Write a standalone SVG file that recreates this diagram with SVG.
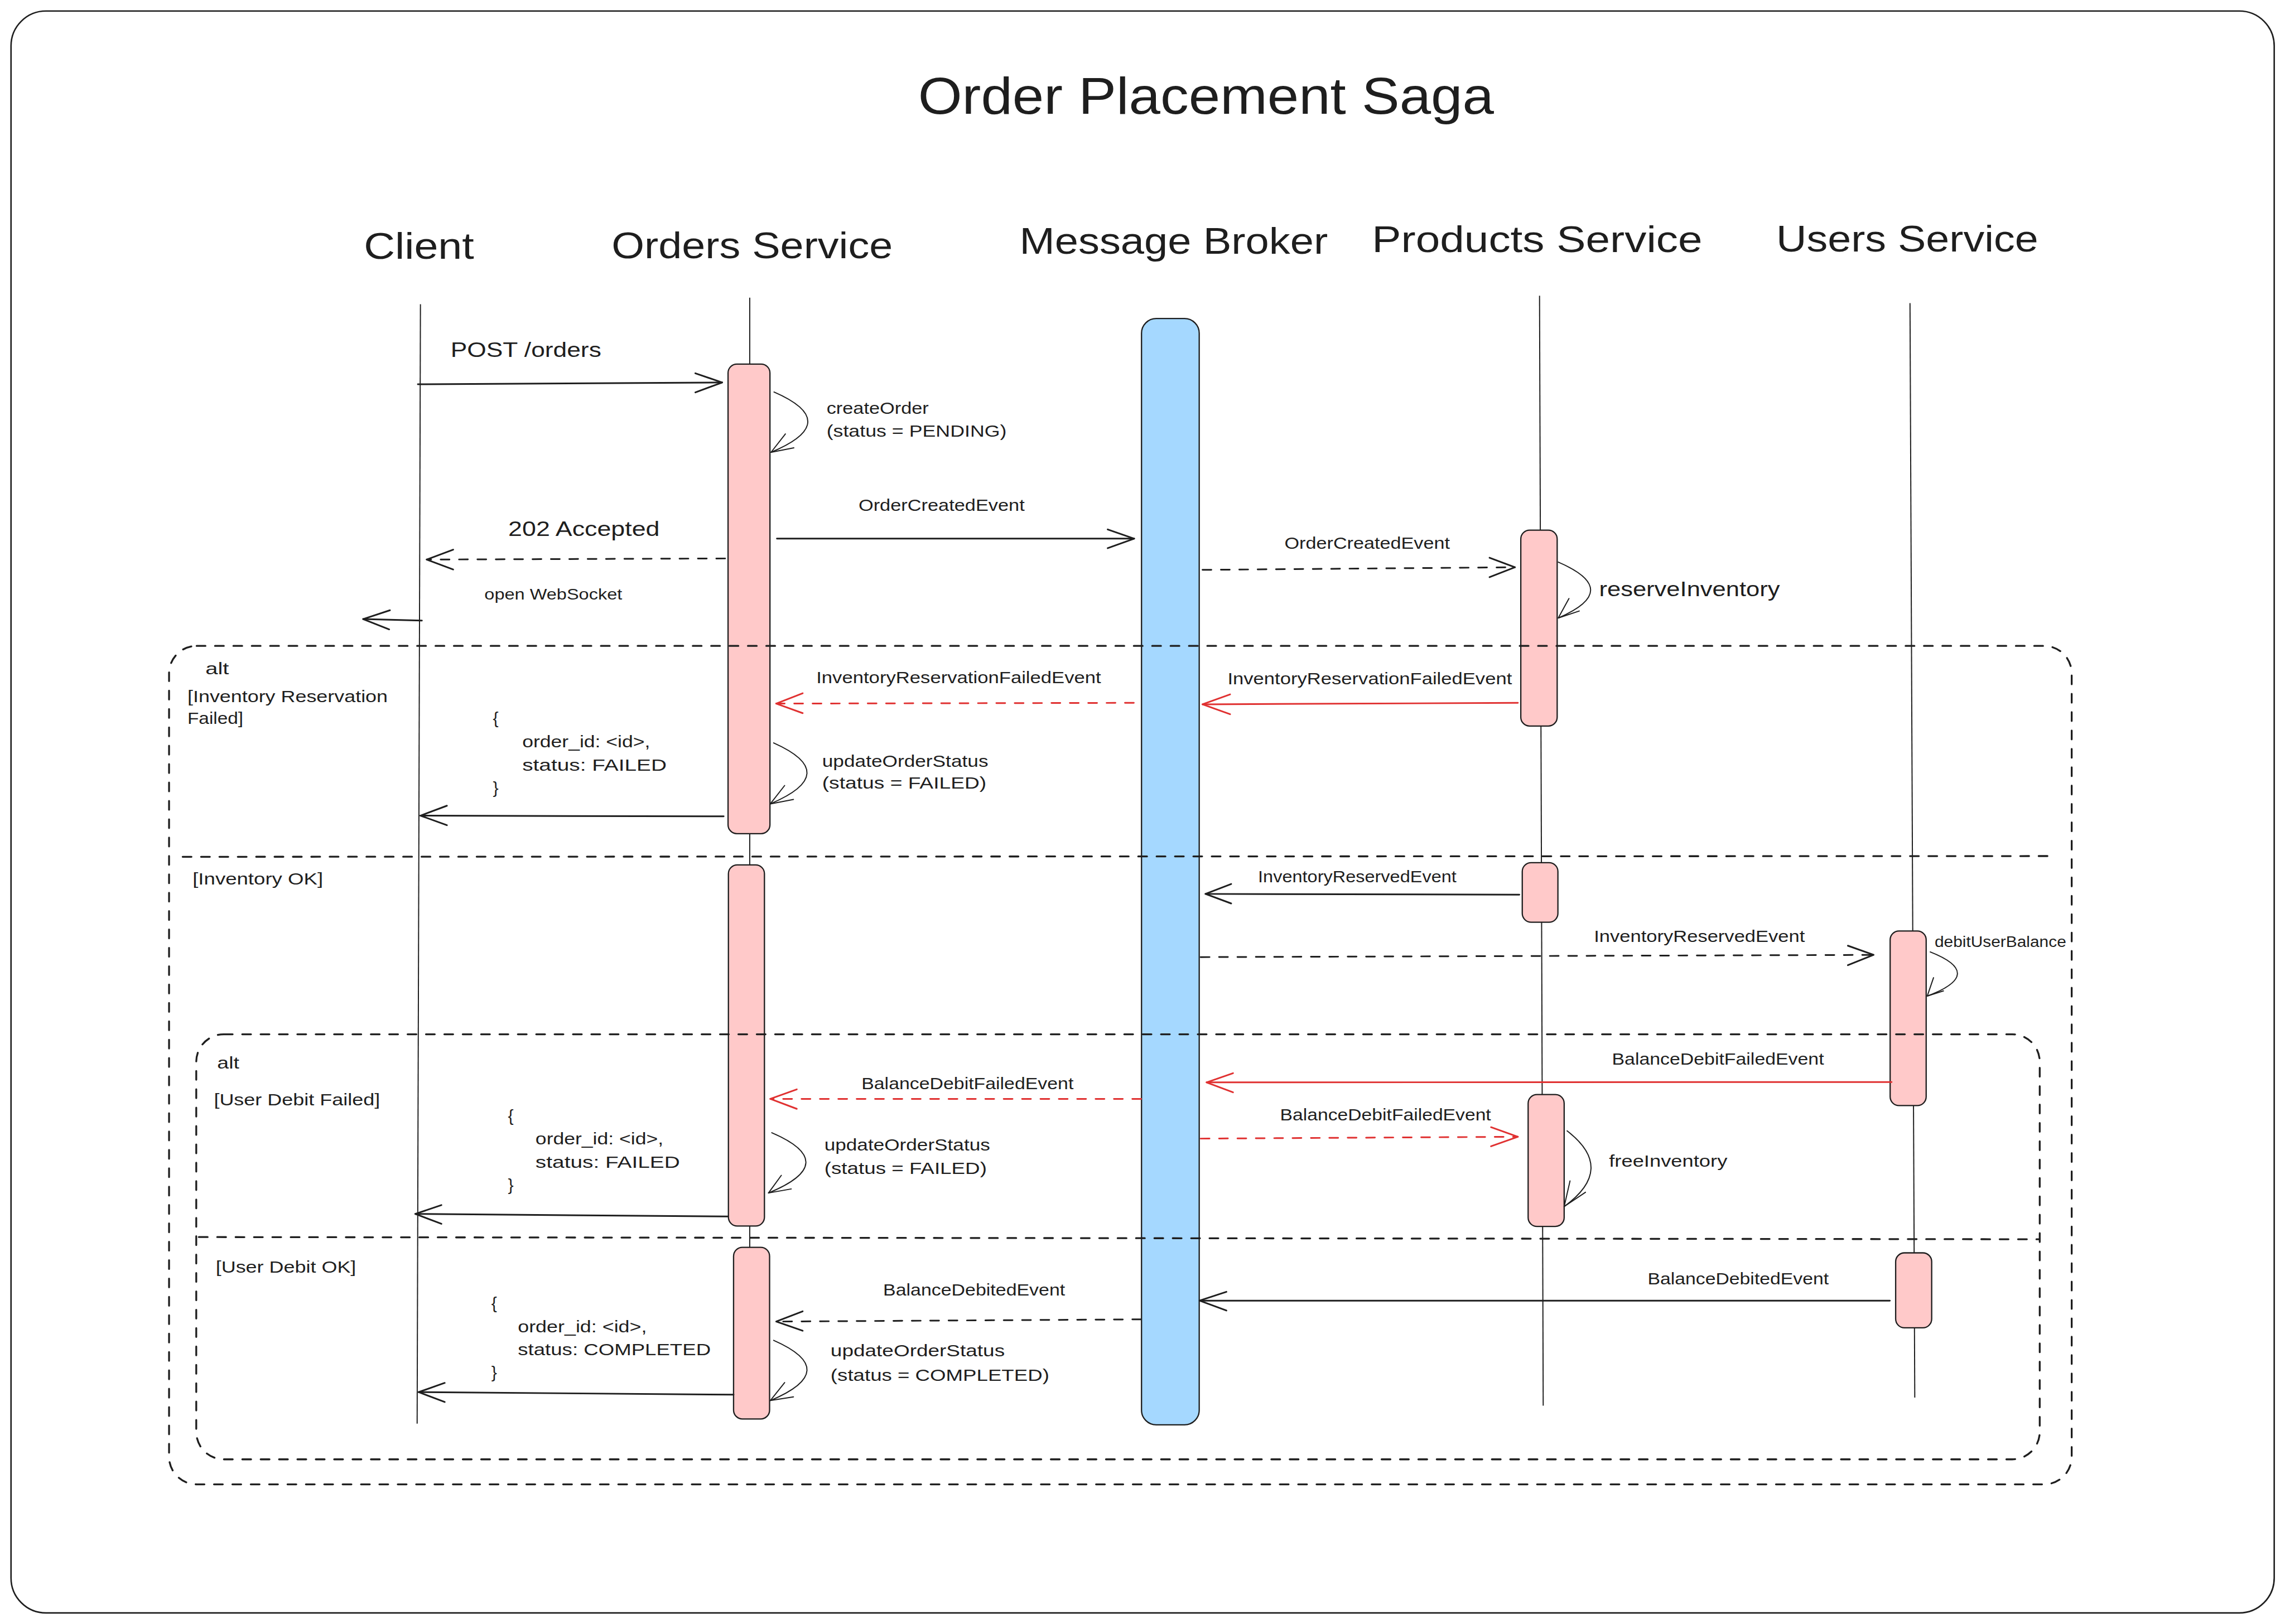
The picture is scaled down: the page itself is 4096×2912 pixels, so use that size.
<svg xmlns="http://www.w3.org/2000/svg" width="4096" height="2912" viewBox="0 0 4096 2912">
<style>
text { font-family: "Liberation Sans", Arial, sans-serif; fill: #1e1e1e; }
.title { font-size: 140px; }
.hdr { font-size: 100px; }
.lbl { font-size: 46px; }
.big { font-size: 57px; }
.sm { font-size: 41px; }
.life { stroke: #1e1e1e; stroke-width: 3; fill: none; }
.act { fill: #ffc9c9; stroke: #1e1e1e; stroke-width: 3.5; }
.broker { fill: #a5d8ff; stroke: #1e1e1e; stroke-width: 3.5; }
.msg { fill: none; stroke: #1e1e1e; stroke-width: 4.5; stroke-linecap: round; stroke-linejoin: round; }
.dash { stroke-dasharray: 24 26; }
.red { stroke: #e03131; }
.thin { stroke-width: 3; }
.frame { fill: none; stroke: #1e1e1e; stroke-width: 5; stroke-dasharray: 24 26; stroke-linecap: round; }
.border { fill: #ffffff; stroke: #1e1e1e; stroke-width: 4; }
</style>
<rect x="0" y="0" width="4096" height="2912" fill="#ffffff"/>
<g transform="scale(0.6588)">
  <rect class="border" x="30" y="30" width="6158" height="4360" rx="95"/>
  <text id="title" class="title" x="2498" y="310" textLength="1567" lengthAdjust="spacingAndGlyphs">Order Placement Saga</text>

  <g id="client">
    <text class="hdr" x="990" y="705" textLength="300" lengthAdjust="spacingAndGlyphs">Client</text>
    <path class="life" d="M1144,828 L1135,3875"/>
  </g>

  <g id="orders-service">
    <text class="hdr" x="1664" y="703" textLength="765" lengthAdjust="spacingAndGlyphs">Orders Service</text>
    <path class="life" d="M2040,810 L2040,3860"/>
    <rect class="act" x="1981" y="991" width="114" height="1278" rx="24"/>
    <rect class="act" x="1982" y="2354" width="98" height="983" rx="24"/>
    <rect class="act" x="1996" y="3395" width="98" height="467" rx="24"/>
  </g>

  <g id="message-broker">
    <text class="hdr" x="2774" y="690" textLength="839" lengthAdjust="spacingAndGlyphs">Message Broker</text>
    <rect class="broker" x="3106" y="867" width="157" height="3011" rx="40"/>
  </g>

  <g id="products-service">
    <text class="hdr" x="3733" y="686" textLength="899" lengthAdjust="spacingAndGlyphs">Products Service</text>
    <path class="life" d="M4189,805 L4199,3826"/>
    <rect class="act" x="4138" y="1443" width="99" height="533" rx="24"/>
    <rect class="act" x="4142" y="2348" width="97" height="162" rx="24"/>
    <rect class="act" x="4158" y="2979" width="98" height="359" rx="24"/>
  </g>

  <g id="users-service">
    <text class="hdr" x="4833" y="685" textLength="713" lengthAdjust="spacingAndGlyphs">Users Service</text>
    <path class="life" d="M5197,825 L5210,3804"/>
    <rect class="act" x="5143" y="2534" width="98" height="475" rx="24"/>
    <rect class="act" x="5158" y="3410" width="98" height="204" rx="24"/>
  </g>

  <g id="alt-inventory">
    <rect class="frame" x="460" y="1758" width="5177" height="2282" rx="75"/>
    <path class="frame" d="M497,2332 L5575,2330"/>
    <text class="lbl" x="559" y="1835" textLength="64" lengthAdjust="spacingAndGlyphs">alt</text>
    <text class="lbl" x="510" y="1911" textLength="545" lengthAdjust="spacingAndGlyphs">[Inventory Reservation</text>
    <text class="lbl" x="510" y="1971" textLength="152" lengthAdjust="spacingAndGlyphs">Failed]</text>
    <text class="lbl" x="524" y="2407" textLength="355" lengthAdjust="spacingAndGlyphs">[Inventory OK]</text>
  </g>

  <g id="alt-user-debit">
    <rect class="frame" x="534" y="2815" width="5016" height="1157" rx="75"/>
    <path class="frame" d="M541,3367 L5550,3373"/>
    <text class="lbl" x="591" y="2909" textLength="60" lengthAdjust="spacingAndGlyphs">alt</text>
    <text class="lbl" x="582" y="3008" textLength="452" lengthAdjust="spacingAndGlyphs">[User Debit Failed]</text>
    <text class="lbl" x="587" y="3464" textLength="382" lengthAdjust="spacingAndGlyphs">[User Debit OK]</text>
  </g>

  <g id="connectors">
    <!-- POST /orders -->
    <path class="msg" d="M1137,1046 L1965,1041"/>
    <path class="msg" d="M1892,1016 L1965,1041 L1892,1068"/>
    <!-- createOrder loop -->
    <path class="msg thin" d="M2106,1067 Q2294,1149 2098,1231"/>
    <path class="msg thin" d="M2160,1219 L2098,1231 L2137,1181"/>
    <!-- 202 Accepted -->
    <path class="msg dash" d="M1973,1520 L1161,1523"/>
    <path class="msg" d="M1233,1496 L1161,1523 L1233,1550"/>
    <!-- open WebSocket -->
    <path class="msg" d="M1148,1689 L988,1685"/>
    <path class="msg" d="M1061,1661 L988,1685 L1059,1713"/>
    <!-- OrderCreatedEvent 1 -->
    <path class="msg" d="M2114,1466 L3086,1466"/>
    <path class="msg" d="M3014,1441 L3086,1466 L3014,1492"/>
    <!-- OrderCreatedEvent 2 -->
    <path class="msg dash" d="M3272,1551 L4122,1544"/>
    <path class="msg" d="M4053,1518 L4122,1544 L4053,1571"/>
    <!-- reserveInventory loop -->
    <path class="msg thin" d="M4240,1530 Q4416,1606 4240,1682"/>
    <path class="msg thin" d="M4297,1663 L4240,1682 L4269,1629"/>
    <!-- InventoryReservationFailedEvent products->broker -->
    <path class="msg red" d="M4130,1913 L3272,1917"/>
    <path class="msg red" d="M3347,1890 L3272,1917 L3347,1944"/>
    <!-- InventoryReservationFailedEvent broker->orders -->
    <path class="msg red dash" d="M3085,1913 L2112,1915"/>
    <path class="msg red" d="M2184,1887 L2112,1915 L2184,1941"/>
    <!-- updateOrderStatus loop 1 -->
    <path class="msg thin" d="M2105,2022 Q2291,2105 2096,2188"/>
    <path class="msg thin" d="M2159,2176 L2096,2188 L2135,2138"/>
    <!-- return 1 -->
    <path class="msg" d="M1969,2222 L1144,2220"/>
    <path class="msg" d="M1216,2193 L1144,2220 L1216,2246"/>
    <!-- InventoryReservedEvent products->broker -->
    <path class="msg" d="M4134,2435 L3280,2433"/>
    <path class="msg" d="M3350,2406 L3280,2433 L3350,2459"/>
    <!-- InventoryReservedEvent broker->users -->
    <path class="msg dash" d="M3267,2605 L5098,2599"/>
    <path class="msg" d="M5028,2574 L5098,2599 L5028,2627"/>
    <!-- debitUserBalance loop -->
    <path class="msg thin" d="M5252,2591 Q5404,2651 5244,2711"/>
    <path class="msg thin" d="M5288,2697 L5244,2711 L5261,2661"/>
    <!-- BalanceDebitFailedEvent users->broker -->
    <path class="msg red" d="M5147,2945 L3283,2946"/>
    <path class="msg red" d="M3355,2921 L3283,2946 L3355,2973"/>
    <!-- BalanceDebitFailedEvent broker->orders -->
    <path class="msg red dash" d="M3105,2991 L2096,2991"/>
    <path class="msg red" d="M2168,2965 L2096,2991 L2168,3018"/>
    <!-- BalanceDebitFailedEvent broker->products -->
    <path class="msg red dash" d="M3267,3099 L4130,3094"/>
    <path class="msg red" d="M4057,3068 L4130,3094 L4057,3120"/>
    <!-- freeInventory loop -->
    <path class="msg thin" d="M4264,3078 Q4398,3181 4256,3284"/>
    <path class="msg thin" d="M4314,3245 L4256,3284 L4272,3214"/>
    <!-- updateOrderStatus loop 2 -->
    <path class="msg thin" d="M2100,3083 Q2290,3165 2091,3247"/>
    <path class="msg thin" d="M2153,3236 L2091,3247 L2126,3199"/>
    <!-- return 2 -->
    <path class="msg" d="M1980,3311 L1130,3304"/>
    <path class="msg" d="M1201,3280 L1130,3304 L1201,3331"/>
    <!-- BalanceDebitedEvent users->broker -->
    <path class="msg" d="M5142,3540 L3264,3540"/>
    <path class="msg" d="M3337,3516 L3264,3540 L3337,3567"/>
    <!-- BalanceDebitedEvent broker->orders -->
    <path class="msg dash" d="M3105,3591 L2112,3597"/>
    <path class="msg" d="M2184,3569 L2112,3597 L2184,3622"/>
    <!-- updateOrderStatus loop 3 -->
    <path class="msg thin" d="M2105,3648 Q2291,3730 2096,3812"/>
    <path class="msg thin" d="M2159,3802 L2096,3812 L2135,3763"/>
    <!-- return 3 -->
    <path class="msg" d="M1996,3796 L1139,3789"/>
    <path class="msg" d="M1210,3764 L1139,3789 L1210,3816"/>
  </g>

  <g id="connector-labels">
    <text class="big" x="1226" y="972" textLength="410" lengthAdjust="spacingAndGlyphs">POST /orders</text>
    <text class="lbl" x="2249" y="1127" textLength="278" lengthAdjust="spacingAndGlyphs">createOrder</text>
    <text class="lbl" x="2249" y="1189" textLength="490" lengthAdjust="spacingAndGlyphs">(status = PENDING)</text>
    <text class="big" x="1383" y="1459" textLength="412" lengthAdjust="spacingAndGlyphs">202 Accepted</text>
    <text class="sm" x="1318" y="1632" textLength="375" lengthAdjust="spacingAndGlyphs">open WebSocket</text>
    <text class="lbl" x="2336" y="1390" textLength="452" lengthAdjust="spacingAndGlyphs">OrderCreatedEvent</text>
    <text class="lbl" x="3495" y="1493" textLength="450" lengthAdjust="spacingAndGlyphs">OrderCreatedEvent</text>
    <text class="big" x="4351" y="1622" textLength="492" lengthAdjust="spacingAndGlyphs">reserveInventory</text>
    <text class="lbl" x="3340" y="1862" textLength="774" lengthAdjust="spacingAndGlyphs">InventoryReservationFailedEvent</text>
    <text class="lbl" x="2221" y="1859" textLength="775" lengthAdjust="spacingAndGlyphs">InventoryReservationFailedEvent</text>
    <text class="lbl" x="1341" y="1971">{</text>
    <text class="lbl" x="1421" y="2034" textLength="348" lengthAdjust="spacingAndGlyphs">order_id: &lt;id&gt;,</text>
    <text class="lbl" x="1421" y="2097" textLength="393" lengthAdjust="spacingAndGlyphs">status: FAILED</text>
    <text class="lbl" x="1341" y="2160">}</text>
    <text class="lbl" x="2237" y="2087" textLength="452" lengthAdjust="spacingAndGlyphs">updateOrderStatus</text>
    <text class="lbl" x="2237" y="2146" textLength="447" lengthAdjust="spacingAndGlyphs">(status = FAILED)</text>
    <text class="lbl" x="3423" y="2402" textLength="540" lengthAdjust="spacingAndGlyphs">InventoryReservedEvent</text>
    <text class="lbl" x="4337" y="2563" textLength="574" lengthAdjust="spacingAndGlyphs">InventoryReservedEvent</text>
    <text class="sm" x="5264" y="2578" textLength="358" lengthAdjust="spacingAndGlyphs">debitUserBalance</text>
    <text class="lbl" x="4386" y="2898" textLength="577" lengthAdjust="spacingAndGlyphs">BalanceDebitFailedEvent</text>
    <text class="lbl" x="2344" y="2964" textLength="577" lengthAdjust="spacingAndGlyphs">BalanceDebitFailedEvent</text>
    <text class="lbl" x="3483" y="3049" textLength="574" lengthAdjust="spacingAndGlyphs">BalanceDebitFailedEvent</text>
    <text class="lbl" x="4378" y="3176" textLength="322" lengthAdjust="spacingAndGlyphs">freeInventory</text>
    <text class="lbl" x="1382" y="3053">{</text>
    <text class="lbl" x="1457" y="3114" textLength="348" lengthAdjust="spacingAndGlyphs">order_id: &lt;id&gt;,</text>
    <text class="lbl" x="1457" y="3178" textLength="393" lengthAdjust="spacingAndGlyphs">status: FAILED</text>
    <text class="lbl" x="1382" y="3240">}</text>
    <text class="lbl" x="2243" y="3132" textLength="451" lengthAdjust="spacingAndGlyphs">updateOrderStatus</text>
    <text class="lbl" x="2243" y="3195" textLength="442" lengthAdjust="spacingAndGlyphs">(status = FAILED)</text>
    <text class="lbl" x="4483" y="3495" textLength="493" lengthAdjust="spacingAndGlyphs">BalanceDebitedEvent</text>
    <text class="lbl" x="2403" y="3526" textLength="495" lengthAdjust="spacingAndGlyphs">BalanceDebitedEvent</text>
    <text class="lbl" x="1337" y="3563">{</text>
    <text class="lbl" x="1409" y="3626" textLength="351" lengthAdjust="spacingAndGlyphs">order_id: &lt;id&gt;,</text>
    <text class="lbl" x="1409" y="3688" textLength="525" lengthAdjust="spacingAndGlyphs">status: COMPLETED</text>
    <text class="lbl" x="1337" y="3750">}</text>
    <text class="lbl" x="2260" y="3692" textLength="474" lengthAdjust="spacingAndGlyphs">updateOrderStatus</text>
    <text class="lbl" x="2260" y="3758" textLength="595" lengthAdjust="spacingAndGlyphs">(status = COMPLETED)</text>
  </g>
</g>
</svg>
